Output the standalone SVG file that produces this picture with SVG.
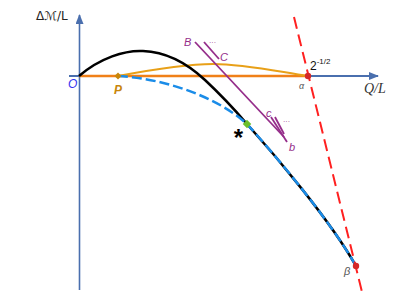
<svg xmlns="http://www.w3.org/2000/svg" width="420" height="297" viewBox="0 0 420 297">
<defs>
<style>
.axis{stroke:#4a6fae;fill:none}
.lbl{font-family:"Liberation Sans","DejaVu Sans",sans-serif;font-style:italic}
.pur{stroke:#952d8a;stroke-width:1.8;fill:none}
.ptxt{fill:#952d8a;font-size:11px}
.dots{fill:#952d8a;font-size:7px;font-family:"Liberation Sans",sans-serif}
</style>
<marker id="ah" markerWidth="10" markerHeight="8" refX="9" refY="4" orient="auto" markerUnits="userSpaceOnUse">
<path d="M0,0 L10,4 L0,8 Z" fill="#4a6fae"/>
</marker>
</defs>
<rect width="420" height="297" fill="#fff"/>
<g id="axes">
<line class="axis" x1="79.5" y1="290" x2="79.5" y2="15" stroke-width="1.6" marker-end="url(#ah)"/>
<line class="axis" x1="69" y1="76" x2="378" y2="76" stroke-width="2" marker-end="url(#ah)"/>
<text x="36" y="20" font-family="'DejaVu Sans',sans-serif" font-size="12" fill="#222">Δℳ/L</text>
<text x="364" y="93" font-family="'Liberation Serif',serif" font-style="italic" font-size="14" fill="#333">Q/L</text>
<text class="lbl" x="68" y="88" font-size="12" fill="#3333ee">O</text>
</g>
<g id="connectors">
<line x1="79" y1="76" x2="308" y2="76" stroke="#f08018" stroke-width="2.5"/>
<path d="M118,76 C150,70 185,64 213,64 C245,64 280,72 308,76" fill="none" stroke="#e8a018" stroke-width="2"/>
<path d="M79,76 C100,58 125,50 143,51 C170,52 190,66 205,80 C220,94 235,110 247,124 C275,155 330,220 356,266" fill="none" stroke="#000" stroke-width="2.5"/>
<path d="M118,76 C160,78 215,95 247,124 C275,155 330,220 356,266" fill="none" stroke="#1a8ce8" stroke-width="2.5" stroke-dasharray="10,4"/>
<line x1="294" y1="17" x2="362" y2="292" stroke="#ff2020" stroke-width="2" stroke-dasharray="12,6"/>
<line class="pur" x1="195" y1="42" x2="284" y2="137"/>
<line class="pur" x1="204" y1="42" x2="219" y2="59"/>
<line class="pur" x1="271" y1="117" x2="287" y2="142"/>
<line class="pur" x1="275" y1="117" x2="284" y2="134"/>
</g>
<g id="P">
<rect x="115.5" y="73.5" width="5" height="5" fill="#c8860a" transform="rotate(45 118 76)"/>
<text class="lbl" x="114" y="94" font-size="12" font-weight="bold" fill="#c8860a">P</text>
</g>
<g id="star">
<rect x="244" y="121" width="6" height="6" fill="#6cbf2a" transform="rotate(45 247 124)"/>
<text x="238.5" y="146" text-anchor="middle" font-family="'Liberation Sans',sans-serif" font-weight="bold" font-size="24" fill="#000">*</text>
</g>
<g id="alpha">
<circle cx="308" cy="76" r="3.2" fill="#d42828"/>
<text x="310" y="70" font-family="'Liberation Sans',sans-serif" font-size="12" fill="#111">2<tspan dy="-6" font-size="8">-1/2</tspan></text>
<text class="lbl" x="299" y="89" font-size="9" fill="#555">α</text>
</g>
<g id="beta">
<circle cx="356" cy="266" r="3.2" fill="#d42828"/>
<text class="lbl" x="344" y="275" font-size="11" fill="#555">β</text>
</g>
<g id="labels">
<text class="lbl ptxt" x="184" y="46">B</text>
<text class="lbl ptxt" x="220" y="61">C</text>
<text class="lbl ptxt" x="266" y="117">c</text>
<text class="lbl ptxt" x="289" y="151">b</text>
<text class="dots" x="209" y="45">···</text>
<text class="dots" x="283" y="124">···</text>
</g>
</svg>
